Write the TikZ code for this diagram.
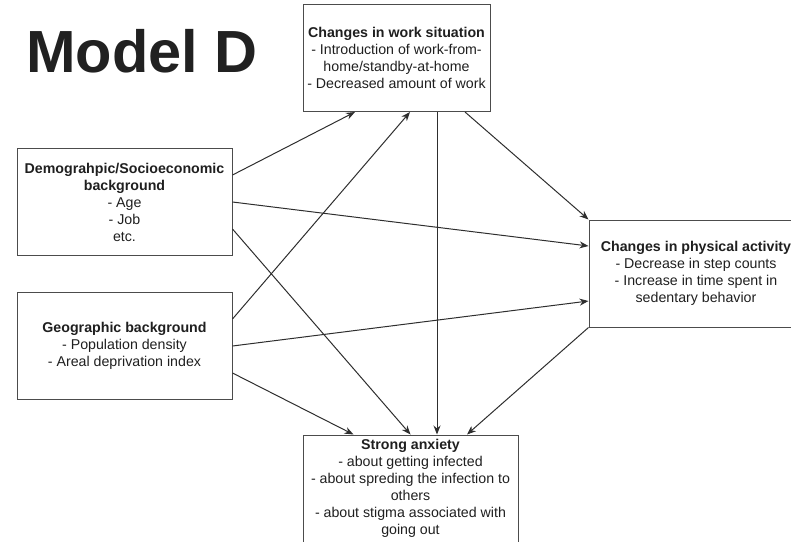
\documentclass[tikz,border=0pt]{standalone}
\usepackage{fontspec}
\setmainfont{Liberation Sans}
\usetikzlibrary{arrows.meta,positioning}

\begin{document}
\begin{tikzpicture}[x=1pt,y=-1pt,>={Stealth[length=9pt,width=7pt]},
  box/.style={draw=black!70,line width=1pt,align=center,text=black!88,font=\fontsize{14.2}{17}\selectfont,minimum height=107pt,inner sep=2pt},
  link/.style={->,draw=black!82,line width=1pt}]
\useasboundingbox (0,0) rectangle (791,541);
\clip (0,0) rectangle (791,541);
\node[anchor=base west,inner sep=0,text=black!87,font=\bfseries\fontsize{59.5}{60}\selectfont] (title) at (26,72) {Model D};
\node[box,minimum width=187pt] (work) at (396.5,58) {\textbf{Changes in work situation}\\ - Introduction of work-from-\\ home/standby-at-home\\ - Decreased amount of work};
\node[box,minimum width=215pt] (demo) at (124.5,202) {\textbf{Demograhpic/Socioeconomic}\\ \textbf{background}\\ - Age\\ - Job\\ etc.};
\node[box,minimum width=215pt,below=36pt of demo] (geo) {\textbf{Geographic background}\\ - Population density\\ - Areal deprivation index};
\node[box,minimum width=214pt] (phys) at (696,273.5) {\textbf{Changes in physical activity}\\ - Decrease in step counts\\ - Increase in time spent in\\ sedentary behavior};
\node[box,minimum width=215pt] (anx) at (410.5,488.5) {\textbf{Strong anxiety}\\ - about getting infected\\ - about spreding the infection to\\ others\\ - about stigma associated with\\ going out};
% into work situation
\draw[link] ([yshift=27pt]demo.east) -- ([xshift=-41.5pt]work.south);
\draw[link] ([yshift=27pt]geo.east) -- ([xshift=13.5pt]work.south);
% into physical activity
\draw[link] ([xshift=68.5pt]work.south) -- (phys.north west);
\draw[link] (demo.east) -- ([yshift=27.5pt]phys.west);
\draw[link] (geo.east) -- ([yshift=-27.5pt]phys.west);
% into anxiety
\draw[link] ([yshift=-27pt]demo.east) -- (anx.north);
\draw[link] ([yshift=-27pt]geo.east) -- ([xshift=-57pt]anx.north);
\draw[link] ([xshift=40.5pt]work.south) -- ([xshift=26.5pt]anx.north);
\draw[link] (phys.south west) -- ([xshift=56.5pt]anx.north);
\end{tikzpicture}
\end{document}
